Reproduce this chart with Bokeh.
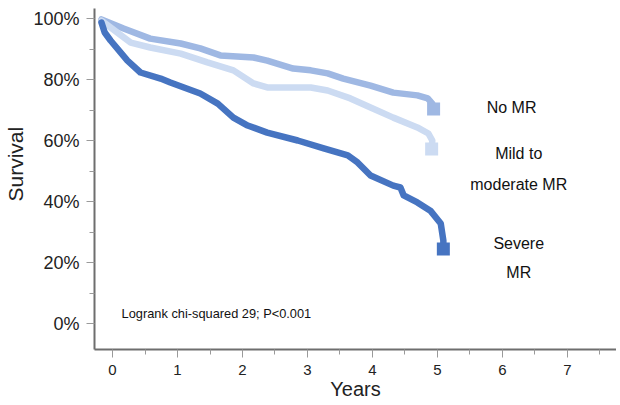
from bokeh.plotting import figure
from bokeh.models import FixedTicker, Range1d, Title
from bokeh.core.properties import value
from bokeh.embed import file_html
from bokeh.resources import INLINE

# Data (years, survival %)
no_mr_x = [-0.17, 0.17, 0.58, 1.05, 1.35, 1.66, 2.17, 2.38, 2.78, 3.05, 3.31, 3.55, 3.97, 4.32, 4.69, 4.85, 4.92, 4.94]
no_mr_y = [99.7, 96.7, 93.4, 91.8, 90.2, 87.9, 87.2, 86.2, 83.6, 83.0, 82.0, 80.3, 78.0, 75.7, 74.8, 73.8, 72.1, 70.3]

mild_x = [-0.17, 0.28, 0.58, 1.05, 1.46, 1.86, 2.17, 2.38, 3.05, 3.31, 3.66, 3.97, 4.32, 4.69, 4.86, 4.92, 4.91]
mild_y = [99.3, 92.1, 90.5, 88.5, 85.6, 83.0, 78.7, 77.4, 77.4, 76.4, 73.8, 70.8, 67.5, 64.3, 62.3, 60.0, 57.2]

severe_x = [-0.17, -0.12, -0.03, 0.23, 0.43, 0.74, 0.89, 1.35, 1.62, 1.86, 2.08, 2.38, 2.85, 3.25, 3.62, 3.77, 3.97, 4.32, 4.43, 4.48, 4.69, 4.89, 5.05, 5.09, 5.09]
severe_y = [98.7, 95.4, 92.8, 86.2, 82.3, 80.3, 79.0, 75.4, 72.1, 67.5, 64.9, 62.6, 60.0, 57.4, 55.1, 52.8, 48.5, 45.2, 44.6, 42.0, 39.7, 37.0, 32.8, 27.2, 24.4]

series_names = ["No MR", "Mild to moderate MR", "Severe MR"]
series_colors = ["#9FB8E3", "#CCDBF2", "#4674C1"]

y_ticks = [0, 20, 40, 60, 80, 100]
y_minor = [10, 30, 50, 70, 90]
y_tick_labels = ["0%", "20%", "40%", "60%", "80%", "100%"]
x_ticks = [0, 1, 2, 3, 4, 5, 6, 7]
x_minor = [0.5, 1.5, 2.5, 3.5, 4.5, 5.5, 6.5, 7.5]

label_texts = ["No MR", "Mild to", "moderate MR", "Severe", "MR"]
label_x = [6.14, 6.25, 6.25, 6.25, 6.25]
label_y = [70.8, 55.7, 45.6, 26.2, 16.7]
stat_text = "Logrank chi-squared 29; P<0.001"
x_title = "Years"
y_title = "Survival"

FONT = "Liberation Sans"

p = figure(width=616, height=404, output_backend="svg", toolbar_location=None,
           x_range=Range1d(-0.277, 7.754), y_range=Range1d(-8.52, 103.28),
           min_border_left=94, min_border_right=0, min_border_top=8, min_border_bottom=55)
p.outline_line_color = None
p.xgrid.grid_line_color = None
p.ygrid.grid_line_color = None
p.background_fill_color = "white"
p.border_fill_color = "white"

for xs, ys, c in [(no_mr_x, no_mr_y, series_colors[0]),
                  (mild_x, mild_y, series_colors[1]),
                  (severe_x, severe_y, series_colors[2])]:
    p.line(xs, ys, line_color=c, line_width=6.5, line_join="round", line_cap="round")
    p.scatter([xs[-1]], [ys[-1]], marker="square", size=13, fill_color=c, line_color=None)

p.text(label_x, label_y, text=label_texts, text_font=value(FONT), text_font_size="16px",
       text_align="center", text_baseline="middle", text_color="#111111")
p.text([0.14], [3.3], text=[stat_text], text_font=value(FONT), text_font_size="12.8px",
       text_align="left", text_baseline="middle", text_color="#111111")

p.yaxis.ticker = FixedTicker(ticks=y_ticks, minor_ticks=y_minor)
p.yaxis.major_label_overrides = {t: l for t, l in zip(y_ticks, y_tick_labels)}
p.xaxis.ticker = FixedTicker(ticks=x_ticks, minor_ticks=x_minor)

for ax in (p.xaxis[0], p.yaxis[0]):
    ax.axis_line_color = "#6E6E6E"
    ax.axis_line_width = 2
    ax.major_tick_line_color = "#9A9A9A"
    ax.minor_tick_line_color = "#9A9A9A"
    ax.major_tick_in = 0
    ax.major_tick_out = 8
    ax.minor_tick_in = 0
    ax.minor_tick_out = 5
    ax.major_label_text_font = FONT
    ax.major_label_text_color = "#222222"

p.yaxis.major_label_text_font_size = "18px"
p.xaxis.major_label_text_font_size = "15px"
p.xaxis.major_label_standoff = 7
p.yaxis.major_label_standoff = 7

p.xaxis.axis_label = x_title
p.xaxis.axis_label_text_font = FONT
p.xaxis.axis_label_text_font_size = "20px"
p.xaxis.axis_label_text_font_style = "normal"
p.xaxis.axis_label_text_color = "#222222"
p.xaxis.axis_label_standoff = 0

# Y title as a left-side title, shifted upward like the reference
p.add_layout(Title(text=y_title, align="left", offset=148, vertical_align="top",
                   text_font=FONT, text_font_size="21px", text_font_style="normal",
                   text_color="#222222", standoff=4), "left")

open("out.html", "w").write(file_html(p, INLINE))
